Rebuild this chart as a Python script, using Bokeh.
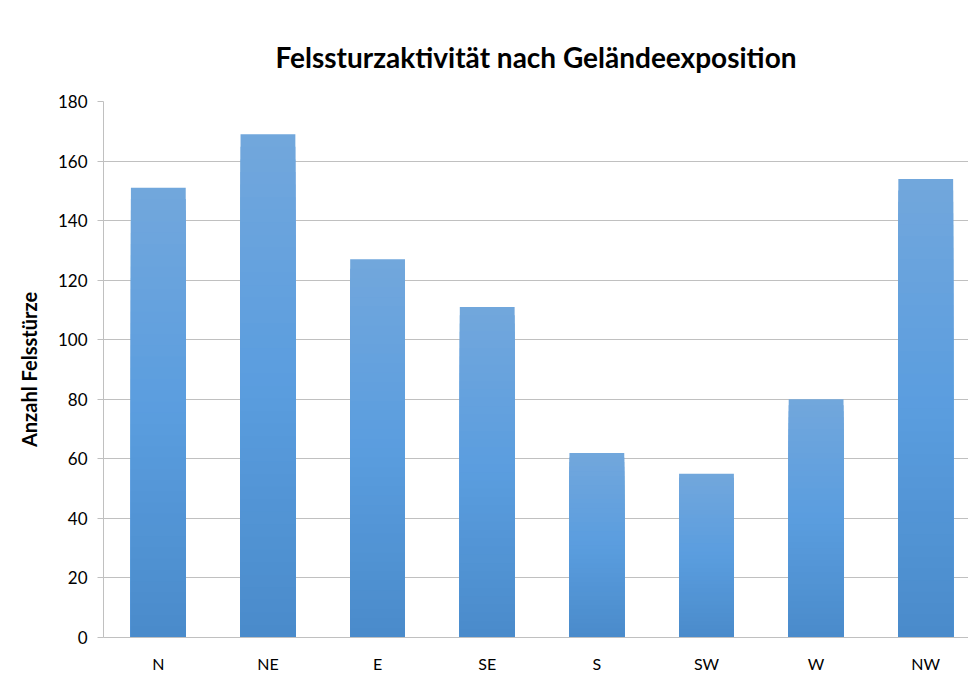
from bokeh.plotting import figure
from bokeh.models import Range1d, FixedTicker, ColumnDataSource
from bokeh.embed import file_html
from bokeh.resources import INLINE

# --- data ---
categories = ["N", "NE", "E", "SE", "S", "SW", "W", "NW"]
counts = [151, 169, 127, 111, 62, 55, 80, 154]
y_ticks = [0, 20, 40, 60, 80, 100, 120, 140, 160, 180]
title_text = "Felssturzaktivität nach Geländeexposition"
y_label = "Anzahl Felsstürze"

FONT = "Lato"

p = figure(
    width=968, height=675,
    x_range=Range1d(0, 7.89), y_range=Range1d(0, 180),
    output_backend="svg", toolbar_location=None,
    min_border_left=103, min_border_right=0,
    min_border_top=101, min_border_bottom=37,
    title=title_text,
)
p.title.text_font = FONT
p.title.text_font_size = "28px"
p.title.text_font_style = "bold"
p.title.text_color = "#000000"
p.title.align = "center"
p.title.offset = 4
p.title.standoff = 56

p.outline_line_color = None
p.background_fill_color = "white"
p.border_fill_color = "white"

# gradient colour stops (bottom, middle, top)
def hex2rgb(h):
    h = h.lstrip("#")
    return tuple(int(h[i:i + 2], 16) for i in (0, 2, 4))

c_bot = hex2rgb("#4a8bca")
c_mid = hex2rgb("#5a9ddf")
c_top = hex2rgb("#72a7dc")

def grad(t):
    if t <= 0.5:
        a, b, f = c_bot, c_mid, t / 0.5
    else:
        a, b, f = c_mid, c_top, (t - 0.5) / 0.5
    return "#%02x%02x%02x" % tuple(int(round(a[i] + (b[i] - a[i]) * f)) for i in range(3))

xs = [i + 0.5 for i in range(len(categories))]
n = 40
for k in range(n, 0, -1):
    t = k / n
    src = ColumnDataSource(dict(x=xs, top=[v * t for v in counts]))
    p.vbar(x="x", top="top", bottom=0, width=0.5, source=src,
           fill_color=grad(t - 0.5 / n), line_color=None)

# grid
p.xgrid.grid_line_color = None
p.ygrid.grid_line_color = "#c0c0c0"
p.ygrid.grid_line_width = 1
p.ygrid.level = "underlay"

# x axis
p.xaxis.ticker = FixedTicker(ticks=xs)
p.xaxis.major_label_overrides = {x: c for x, c in zip(xs, categories)}
p.xaxis.major_tick_line_color = None
p.xaxis.minor_tick_line_color = None
p.xaxis.axis_line_color = "#c0c0c0"
p.xaxis.major_label_standoff = 10
p.xaxis.major_label_text_font = FONT
p.xaxis.major_label_text_font_size = "16px"
p.xaxis.major_label_text_color = "#000000"

# y axis
p.yaxis.ticker = FixedTicker(ticks=y_ticks)
p.yaxis.axis_line_color = "#c0c0c0"
p.yaxis.major_tick_line_color = "#c0c0c0"
p.yaxis.major_tick_in = 0
p.yaxis.major_tick_out = 6
p.yaxis.minor_tick_line_color = None
p.yaxis.major_label_standoff = 10
p.yaxis.major_label_text_font = FONT
p.yaxis.major_label_text_font_size = "17px"
p.yaxis.major_label_text_color = "#000000"
p.yaxis.axis_label = y_label
p.yaxis.axis_label_text_font = FONT
p.yaxis.axis_label_text_font_size = "20px"
p.yaxis.axis_label_text_font_style = "bold"
p.yaxis.axis_label_text_color = "#000000"
p.yaxis.axis_label_standoff = 14

open("out.html", "w").write(file_html(p, INLINE))
